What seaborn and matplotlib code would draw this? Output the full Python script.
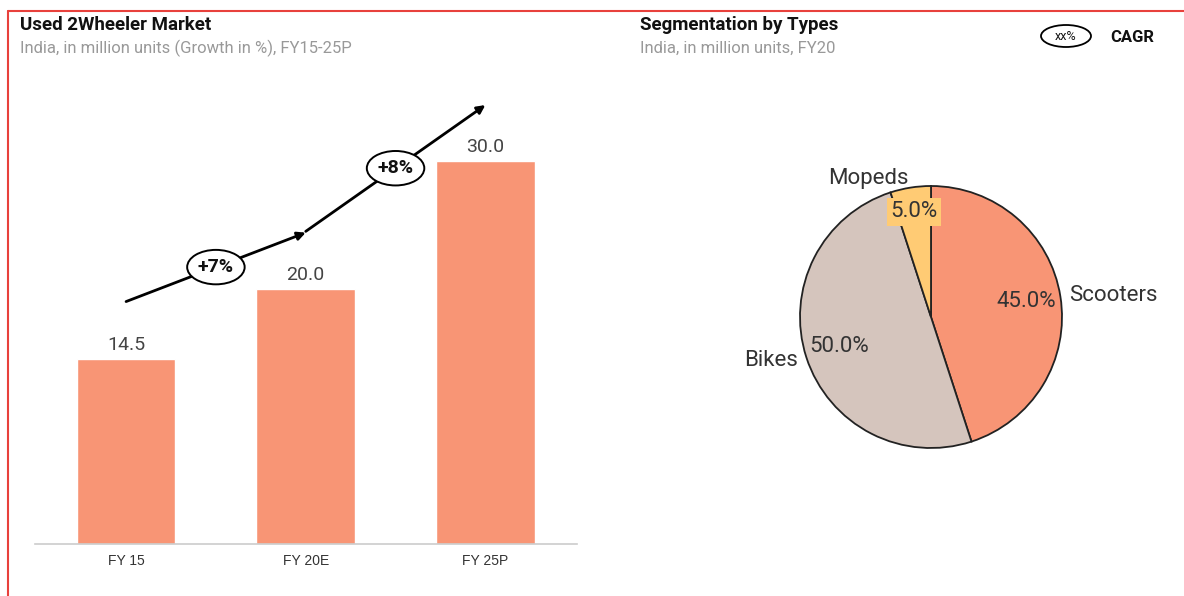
import numpy as np
import pandas as pd
import seaborn as sns
import matplotlib.pyplot as plt
from matplotlib.patches import Ellipse
from matplotlib.lines import Line2D

# data
years = ['FY 15', 'FY 20E', 'FY 25P']
market = [14.5, 20.0, 30.0]
cagr = ['+7%', '+8%']

segments = ['Scooters', 'Bikes', 'Mopeds']
shares = [45.0, 50.0, 5.0]
seg_colors = ['#F89575', '#D5C5BD', '#FFCB74']

bar_color = '#F89575'
W, H = 1184, 596

sns.set_theme(style='white')
plt.rcParams['font.family'] = ['Roboto', 'DejaVu Sans']

fig = plt.figure(figsize=(W / 100, H / 100), dpi=100)
fig.patch.set_facecolor('white')


def fx(px):
    return px / W


def fy(py):
    return 1 - py / H


# red frame
fig.add_artist(Line2D([fx(8), 1], [fy(11), fy(11)], color='#E8413C', lw=1.5))
fig.add_artist(Line2D([fx(8), fx(8)], [fy(11), 0], color='#E8413C', lw=1.5))

# titles
fig.text(fx(20), fy(25), 'Used 2Wheeler Market', fontsize=13.5, fontweight='bold',
         color='#111111', va='center', ha='left')
fig.text(fx(20), fy(48), 'India, in million units (Growth in %), FY15-25P', fontsize=12,
         color='#999999', va='center', ha='left')
fig.text(fx(640), fy(25), 'Segmentation by Types', fontsize=13.5, fontweight='bold',
         color='#111111', va='center', ha='left')
fig.text(fx(640), fy(48), 'India, in million units, FY20', fontsize=12,
         color='#999999', va='center', ha='left')

# legend for CAGR bubbles
fig.add_artist(Ellipse((fx(1066), fy(36)), fx(50), 22 / H, transform=fig.transFigure,
                       facecolor='white', edgecolor='black', lw=1.3))
fig.text(fx(1066), fy(36), 'xx%', fontsize=9, ha='center', va='center', color='#111111')
fig.text(fx(1110), fy(37), 'CAGR', fontsize=12, fontweight='bold', ha='left', va='center',
         color='#111111')

# ---- bar chart ----
ax = fig.add_axes([fx(35), fy(544), fx(542), (544 - 90) / H])
df = pd.DataFrame({'year': years, 'units': market})
sns.barplot(data=df, x='year', y='units', color=bar_color, saturation=1, width=0.55, ax=ax)
ax.set_xlim(-0.507, 2.51)
ax.set_ylim(0, (544 - 90) / 12.76)
ax.set_xlabel('')
ax.set_ylabel('')
ax.set_yticks([])
for s in ['top', 'right', 'left']:
    ax.spines[s].set_visible(False)
ax.spines['bottom'].set_color('#CCCCCC')
ax.spines['bottom'].set_linewidth(1.2)
ax.tick_params(axis='x', length=0, pad=7)
for lbl in ax.get_xticklabels():
    lbl.set_fontfamily('Liberation Sans')
    lbl.set_fontsize(10)
    lbl.set_color('#333333')

for i, v in enumerate(market):
    ax.text(i, v + 1.1, '{:.1f}'.format(v), ha='center', va='center', fontsize=14,
            color='#444444')

# growth arrows with CAGR bubbles
for i, txt in enumerate(cagr):
    y0 = market[i] + 4.5
    y1 = market[i + 1] + 4.4
    ax.annotate('', xy=(i + 1, y1), xytext=(i, y0),
                arrowprops=dict(arrowstyle='-|>', color='black', lw=2, mutation_scale=12,
                                shrinkA=0, shrinkB=0))
    ax.add_patch(Ellipse((i + 0.5, (y0 + y1) / 2), 0.32, 2.7, facecolor='white',
                         edgecolor='black', lw=1.4, zorder=5))
    ax.text(i + 0.5, (y0 + y1) / 2, txt, ha='center', va='center', fontsize=14,
            fontweight='bold', color='#111111', zorder=6)

# ---- pie chart ----
pax = fig.add_axes([fx(931 - 200), fy(317 + 200), fx(400), 400 / H])
wedges, texts, autotexts = pax.pie(
    shares, labels=segments, colors=seg_colors, startangle=90, counterclock=False,
    autopct='%1.1f%%', pctdistance=0.74, labeldistance=1.07,
    wedgeprops=dict(edgecolor='#222222', linewidth=1.3),
    textprops=dict(fontsize=16, color='#333333'))
lim = 200 / 131
pax.set_xlim(-lim, lim)
pax.set_ylim(-lim, lim)
pax.set_aspect('equal')
pax.axis('off')
px, py = autotexts[2].get_position()
autotexts[2].set_position((px * 1.1, py * 1.1))
autotexts[2].set_bbox(dict(facecolor=seg_colors[2], edgecolor='none', pad=2.5))

fig.savefig('out.png', dpi=100, facecolor='white')
